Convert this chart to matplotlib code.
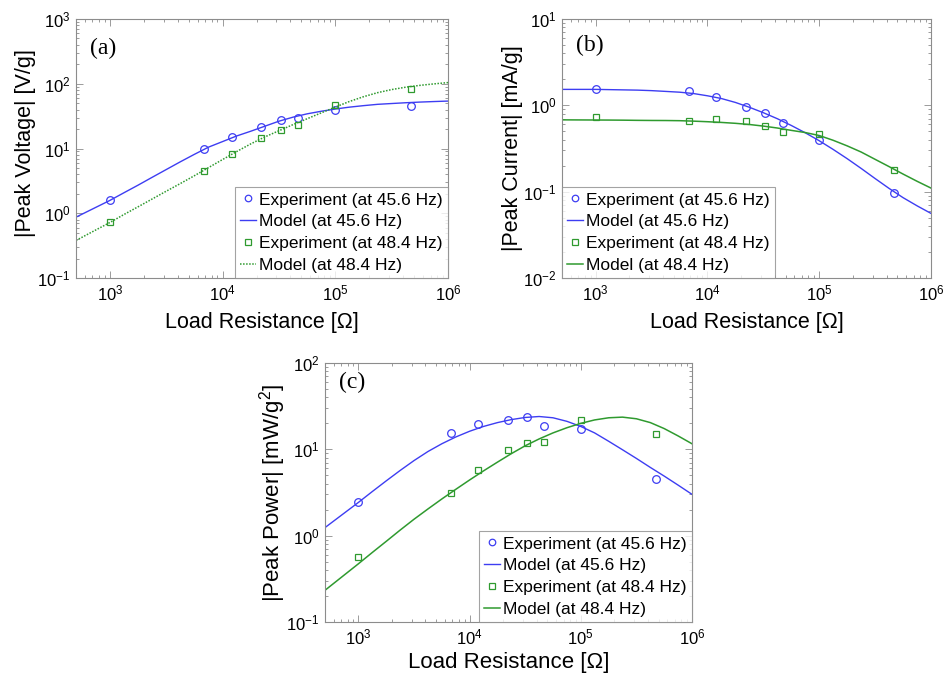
import matplotlib
matplotlib.use("Agg")
import matplotlib.pyplot as plt
from matplotlib.ticker import LogLocator, NullFormatter

plt.rcParams['font.family'] = ['Liberation Sans', 'DejaVu Sans']
plt.rcParams['mathtext.fontset'] = 'custom'
plt.rcParams['mathtext.rm'] = 'Liberation Sans'
plt.rcParams['mathtext.it'] = 'Liberation Sans:italic'
plt.rcParams['mathtext.default'] = 'regular'
plt.rcParams['axes.unicode_minus'] = False

# ---------------- data ----------------
exp_R = [1000, 6800, 12000, 22000, 33000, 47000, 100000, 470000]

# (a) peak voltage [V/g]
volt_exp_456 = [1.58, 9.9, 14.8, 21.7, 27.1, 29.5, 39.7, 45.7]
volt_exp_484 = [0.74, 4.53, 8.1, 14.3, 19.2, 23.3, 46.2, 82.8]

# (b) peak current [mA/g]
curr_exp_456 = [1.53, 1.48, 1.26, 0.96, 0.82, 0.62, 0.40, 0.097]
curr_exp_484 = [0.73, 0.66, 0.69, 0.66, 0.58, 0.49, 0.46, 0.177]

# (c) peak power [mW/g^2]
pow_exp_456 = [2.45, 15.5, 19.5, 21.7, 23.7, 18.5, 17.1, 4.58]
pow_exp_484 = [0.56, 3.12, 5.7, 9.9, 11.8, 12.1, 21.7, 14.9]

# model curves
model_R = [500, 1000, 1330, 1780, 2370, 3160, 4220, 5620, 7500, 10000,
           13300, 17800, 23700, 31600, 42200, 56200, 75000, 100000, 133000,
           178000, 237000, 316000, 422000, 562000, 750000, 1000000]
volt_mod_456 = [0.87, 1.58, 2.07, 2.72, 3.59, 4.73, 6.24, 8.13, 10.5, 12.8,
                15.6, 18.5, 22.1, 26.4, 30.5, 34.3, 37.6, 40.7, 43.5, 45.9,
                48.1, 49.5, 50.9, 52.1, 53.1, 54.0]
volt_mod_484 = [0.38, 0.72, 0.955, 1.26, 1.66, 2.19, 2.88, 3.80, 5.07, 6.76,
                8.95, 11.8, 15.1, 18.8, 23.4, 28.8, 35.5, 43.7, 53.1, 63.1,
                72.8, 81.3, 88.5, 94.4, 99.5, 104.2]
curr_mod_456 = [1.53, 1.53, 1.52, 1.51, 1.50, 1.48, 1.45, 1.42, 1.37, 1.29,
                1.20, 1.08, 0.950, 0.822, 0.700, 0.585, 0.481, 0.389, 0.309,
                0.241, 0.186, 0.142, 0.109, 0.0853, 0.0686, 0.0560]
curr_mod_484 = [0.679, 0.676, 0.675, 0.673, 0.670, 0.668, 0.667, 0.664, 0.656,
                0.646, 0.634, 0.619, 0.600, 0.575, 0.546, 0.513, 0.484, 0.447,
                0.394, 0.339, 0.288, 0.237, 0.195, 0.160, 0.132, 0.110]
pow_mod_456 = [1.24, 2.43, 3.24, 4.32, 5.69, 7.41, 9.44, 11.6, 13.9, 16.2,
               18.4, 20.4, 22.1, 23.4, 24.0, 23.2, 21.1, 18.4, 15.5, 12.4,
               9.89, 7.85, 6.17, 4.90, 3.85, 3.01]
pow_mod_484 = [0.233, 0.473, 0.638, 0.861, 1.16, 1.55, 2.04, 2.66, 3.44, 4.42,
               5.62, 7.11, 8.91, 11.0, 13.2, 15.5, 17.8, 20.0, 21.9, 23.2,
               23.6, 22.6, 20.4, 17.4, 14.3, 11.6]

labels = ['Experiment (at 45.6 Hz)', 'Model (at 45.6 Hz)',
          'Experiment (at 48.4 Hz)', 'Model (at 48.4 Hz)']

BLUE = '#3d3df2'
GREEN = '#2f9a2f'
FRAME = '#8c8c8c'

fig = plt.figure(figsize=(9.45, 6.77), dpi=100)

W, H = 945.0, 677.0
def ax_at(l, r, t, b):
    return fig.add_axes([l / W, 1 - b / H, (r - l) / W, (b - t) / H])

ax_a = ax_at(76, 448, 19, 278)
ax_b = ax_at(562, 931, 19, 278)
ax_c = ax_at(325, 692, 363, 622)

def style(ax, ylim, ylabel, tag, tag_dy, ylab_x, ylab_y, xlab_y, lab_fs):
    ax.set_xscale('log')
    ax.set_yscale('log')
    ax.set_xlim(500, 1e6)
    ax.set_ylim(*ylim)
    for s in ax.spines.values():
        s.set_color(FRAME)
        s.set_linewidth(0.8)
    ax.xaxis.set_major_locator(LogLocator(base=10, numticks=20))
    ax.xaxis.set_minor_locator(LogLocator(base=10, subs=range(2, 10), numticks=50))
    ax.xaxis.set_minor_formatter(NullFormatter())
    ax.yaxis.set_minor_locator(LogLocator(base=10, subs=range(2, 10), numticks=50))
    ax.yaxis.set_minor_formatter(NullFormatter())
    ax.tick_params(which='both', direction='in', top=True, right=True,
                   color=FRAME, width=0.6)
    ax.tick_params(which='major', length=5, labelsize=12, pad=4)
    ax.tick_params(which='minor', length=2.5)
    ax.set_xlabel('Load Resistance [\u03a9]', fontsize=lab_fs)
    ax.xaxis.set_label_coords(0.5, xlab_y)
    ax.xaxis.label.set_va('center')
    ax.set_ylabel(ylabel, fontsize=lab_fs)
    ax.yaxis.set_label_coords(ylab_x, ylab_y)
    ax.yaxis.label.set_va('center')
    ax.text(14 / 370, 1 - tag_dy / 259, tag, transform=ax.transAxes,
            fontsize=17, family=['Liberation Serif'], va='center', ha='left')

def plot_panel(ax, e1, m1, e2, m2, green_ls='-'):
    h1, = ax.plot(exp_R, e1, 'o', mfc='none', mec=BLUE, ms=5.5, mew=0.9)
    h2, = ax.plot(model_R, m1, '-', color=BLUE, lw=1.0)
    h3, = ax.plot(exp_R, e2, 's', mfc='none', mec=GREEN, ms=5, mew=0.9)
    h4, = ax.plot(model_R, m2, linestyle=green_ls, color=GREEN, lw=1.1)
    return [h1, h2, h3, h4]

def legend(ax, handles, loc):
    leg = ax.legend(handles, labels, loc=loc, fontsize=12.5, frameon=True,
                    fancybox=False, edgecolor=FRAME, borderaxespad=0.0,
                    handlelength=0.9, handletextpad=0.2, labelspacing=0.38,
                    borderpad=0.3, markerscale=0.85)
    leg.get_frame().set_linewidth(0.8)

h = plot_panel(ax_a, volt_exp_456, volt_mod_456, volt_exp_484, volt_mod_484, green_ls=(0, (1, 1)))
style(ax_a, (0.1, 1000), '|Peak Voltage| [V/g]', '(a)', 29, -0.137, 0.52, -0.17, 15.5)
legend(ax_a, h, 'lower right')

h = plot_panel(ax_b, curr_exp_456, curr_mod_456, curr_exp_484, curr_mod_484)
style(ax_b, (0.01, 10), '|Peak Current| [mA/g]', '(b)', 26, -0.135, 0.5, -0.17, 15.5)
legend(ax_b, h, 'lower left')

h = plot_panel(ax_c, pow_exp_456, pow_mod_456, pow_exp_484, pow_mod_484)
style(ax_c, (0.1, 100), '|Peak Power| [mW/g$^2$]', '(c)', 19, -0.142, 0.5, -0.158, 16)
legend(ax_c, h, 'lower right')

fig.savefig('out.png', dpi=100)
